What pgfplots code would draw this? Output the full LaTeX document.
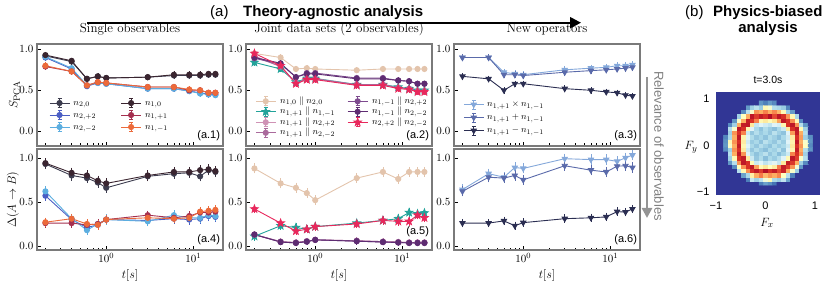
\documentclass[border=0pt]{standalone}
\usepackage{pgfplots}
\pgfplotsset{compat=1.18}
\usepackage{pgfplotstable}
\usepackage{fontspec}
\setsansfont{Liberation Sans}
\usetikzlibrary{arrows.meta}

\definecolor{cA}{HTML}{3C3C4E}
\definecolor{cB}{HTML}{3A2530}
\definecolor{cC}{HTML}{4B5EC4}
\definecolor{cD}{HTML}{5CAEE0}
\definecolor{cE}{HTML}{A5304F}
\definecolor{cF}{HTML}{EC6A3A}
\definecolor{cG}{HTML}{E3C4AC}
\definecolor{cH}{HTML}{22A39A}
\definecolor{cI}{HTML}{CF92B5}
\definecolor{cJ}{HTML}{AA6A9C}
\definecolor{cK}{HTML}{7D4A8E}
\definecolor{cL}{HTML}{5E2C72}
\definecolor{cM}{HTML}{E8285C}
\definecolor{cN}{HTML}{84A8DA}
\definecolor{cO}{HTML}{5A6AAA}
\definecolor{cP}{HTML}{2B2E52}
\definecolor{frm}{HTML}{7A7A7A}
\definecolor{hmbg}{RGB}{49,54,149}

\pgfdeclareplotmark{fstar}{%
 \pgfpathmoveto{\pgfpointpolar{90}{1.3\pgfplotmarksize}}%
 \pgfpathlineto{\pgfpointpolar{126}{0.55\pgfplotmarksize}}%
 \pgfpathlineto{\pgfpointpolar{162}{1.3\pgfplotmarksize}}%
 \pgfpathlineto{\pgfpointpolar{198}{0.55\pgfplotmarksize}}%
 \pgfpathlineto{\pgfpointpolar{234}{1.3\pgfplotmarksize}}%
 \pgfpathlineto{\pgfpointpolar{270}{0.55\pgfplotmarksize}}%
 \pgfpathlineto{\pgfpointpolar{306}{1.3\pgfplotmarksize}}%
 \pgfpathlineto{\pgfpointpolar{342}{0.55\pgfplotmarksize}}%
 \pgfpathlineto{\pgfpointpolar{18}{1.3\pgfplotmarksize}}%
 \pgfpathlineto{\pgfpointpolar{54}{0.55\pgfplotmarksize}}%
 \pgfpathclose
 \pgfusepathqfillstroke
}

\tikzset{
 ser/.style={line width=0.9pt, mark size=2.6pt, mark options={solid}},
 sA/.style={ser, color=cA, mark=*},
 sB/.style={ser, color=cB, mark=*},
 sC/.style={ser, color=cC, mark=*},
 sD/.style={ser, color=cD, mark=*},
 sE/.style={ser, color=cE, mark=*},
 sF/.style={ser, color=cF, mark=*},
 sG/.style={ser, color=cG, mark=*},
 sH/.style={ser, color=cH, mark=fstar, mark size=3pt},
 sI/.style={ser, color=cI, mark=*},
 sJ/.style={ser, color=cJ, mark=*},
 sK/.style={ser, color=cK, mark=*},
 sL/.style={ser, color=cL, mark=*},
 sM/.style={ser, color=cM, mark=fstar, mark size=3pt},
 sN/.style={ser, color=cN, mark=triangle*, mark size=3pt, mark options={solid, rotate=180}},
 sO/.style={ser, color=cO, mark=triangle*, mark size=3pt, mark options={solid, rotate=180}},
 sP/.style={ser, color=cP, mark=triangle*, mark size=3pt, mark options={solid, rotate=180}},
 lab/.style={anchor=south east, font=\sffamily\fontsize{11}{11}\selectfont, inner sep=0pt},
}

\pgfplotsset{eb/.style={error bars/y dir=both, error bars/y fixed=#1, error bars/error bar style={line width=0.6pt}, error bars/error mark options={mark size=2pt, line width=0.6pt}}}

\pgfplotstableread{
t a b c d e f
0.2 0.92 0.93 0.90 0.91 0.79 0.80
0.4 0.85 0.86 0.76 0.77 0.73 0.73
0.6 0.64 0.64 0.55 0.56 0.56 0.56
0.8 0.67 0.67 0.59 0.59 0.60 0.60
1 0.65 0.65 0.58 0.58 0.59 0.59
3 0.66 0.66 0.52 0.52 0.54 0.54
6 0.68 0.69 0.52 0.52 0.54 0.54
9 0.68 0.69 0.49 0.49 0.50 0.51
12 0.68 0.69 0.47 0.46 0.50 0.50
15 0.69 0.70 0.45 0.45 0.47 0.47
18 0.69 0.70 0.45 0.44 0.47 0.47
}\tabA

\pgfplotstableread{
t a b c d e f
0.2 0.93 0.94 0.57 0.62 0.26 0.27
0.4 0.80 0.83 0.30 0.31 0.26 0.31
0.6 0.77 0.80 0.21 0.18 0.24 0.25
0.8 0.72 0.74 0.24 0.25 0.25 0.24
1 0.66 0.71 0.30 0.30 0.30 0.30
3 0.79 0.80 0.29 0.28 0.35 0.32
6 0.82 0.84 0.31 0.35 0.32 0.31
9 0.83 0.84 0.30 0.32 0.34 0.32
12 0.79 0.86 0.31 0.32 0.38 0.39
15 0.86 0.87 0.34 0.35 0.38 0.40
18 0.84 0.85 0.33 0.34 0.39 0.41
}\tabD

\pgfplotstableread{
t g h i j k l m
0.2 0.95 0.84 0.92 0.91 0.89 0.90 0.95
0.4 0.90 0.76 0.79 0.79 0.82 0.83 0.80
0.6 0.76 0.60 0.59 0.59 0.66 0.66 0.58
0.8 0.77 0.645 0.64 0.64 0.71 0.70 0.63
1 0.76 0.645 0.64 0.64 0.71 0.70 0.63
3 0.745 0.57 0.565 0.57 0.65 0.64 0.56
6 0.76 0.57 0.565 0.57 0.65 0.64 0.56
9 0.76 0.54 0.53 0.53 0.62 0.62 0.52
12 0.76 0.52 0.515 0.52 0.61 0.61 0.51
15 0.76 0.50 0.49 0.49 0.58 0.58 0.48
18 0.76 0.50 0.49 0.49 0.58 0.58 0.48
}\tabB

\pgfplotstableread{
t g h i j k l m
0.2 0.88 0.11 0.13 0.13 0.13 0.13 0.42
0.4 0.71 0.23 0.05 0.05 0.045 0.045 0.26
0.6 0.66 0.21 0.04 0.04 0.035 0.035 0.17
0.8 0.60 0.19 0.055 0.055 0.05 0.05 0.19
1 0.52 0.22 0.07 0.07 0.07 0.07 0.22
3 0.77 0.26 0.06 0.06 0.055 0.055 0.25
6 0.84 0.29 0.05 0.05 0.045 0.045 0.29
9 0.76 0.31 0.045 0.045 0.04 0.04 0.28
12 0.84 0.38 0.04 0.04 0.035 0.035 0.28
15 0.84 0.365 0.04 0.04 0.035 0.035 0.35
18 0.84 0.375 0.04 0.04 0.035 0.035 0.32
}\tabE

\pgfplotstableread{
t p q r
0.2 0.90 0.90 0.67
0.4 0.90 0.90 0.64
0.6 0.72 0.69 0.50
0.8 0.70 0.69 0.58
1 0.69 0.68 0.58
3 0.75 0.72 0.52
6 0.77 0.74 0.50
9 0.78 0.75 0.48
12 0.80 0.76 0.47
15 0.80 0.77 0.44
18 0.81 0.78 0.43
}\tabC

\pgfplotstableread{
t p q r
0.2 0.64 0.62 0.26
0.4 0.82 0.78 0.26
0.6 0.78 0.77 0.285
0.8 0.89 0.80 0.23
1 0.88 0.75 0.265
3 0.99 0.91 0.31
6 0.98 0.86 0.32
9 0.98 0.84 0.33
12 0.96 0.905 0.39
15 1.00 0.91 0.385
18 1.03 0.89 0.42
}\tabF

\begin{document}
\begin{tikzpicture}
\useasboundingbox (0pt,0pt) rectangle (830pt,-283pt);

% headers
\node[anchor=base west, font=\sffamily\fontsize{15}{15}\selectfont, inner sep=0pt] at (210pt,-17pt) {(a)};
\node[anchor=base west, font=\sffamily\bfseries\fontsize{15}{15}\selectfont, inner sep=0pt] at (243pt,-17pt) {Theory-agnostic analysis};
\draw[line width=2.2pt, -{Triangle[length=11pt, width=11pt]}] (87pt,-22.7pt) -- (581pt,-22.7pt);
\node[anchor=base west, font=\sffamily\fontsize{15}{15}\selectfont, inner sep=0pt] at (685pt,-17pt) {(b)};
\node[anchor=base west, font=\sffamily\bfseries\fontsize{15}{15}\selectfont, inner sep=0pt] at (713pt,-17pt) {Physics-biased};
\node[anchor=base, font=\sffamily\bfseries\fontsize{15}{15}\selectfont, inner sep=0pt] at (768pt,-33pt) {analysis};

% column titles
\node[anchor=base, font=\fontsize{13}{13}\selectfont, inner sep=0pt] at (130pt,-33pt) {Single observables};
\node[anchor=base, font=\fontsize{13}{13}\selectfont, inner sep=0pt] at (339pt,-33pt) {Joint data sets (2 observables)};
\node[anchor=base, font=\fontsize{13}{13}\selectfont, inner sep=0pt] at (547pt,-33pt) {New operators};

% relevance arrow
\draw[line width=2.5pt, draw=black!42, -{Triangle[length=10pt, width=10pt]}] (647pt,-77pt) -- (647pt,-218pt);
\node[rotate=-90, font=\sffamily\fontsize{13}{13}\selectfont, text=black!50] at (659pt,-146pt) {Relevance of observables};

% (a.1)
\begin{axis}[at={(37pt,-44pt)}, anchor=north west,
 scale only axis, width=186pt, height=102pt, xmode=log, xmin=0.16, xmax=22, ymin=-0.18, ymax=1.065,
 tick align=inside, tick pos=left, ytick={0,0.5,1}, yticklabels={$0.0$,$0.5$,$1.0$}, xticklabels={,,},
 axis line style={draw=frm, line width=1.2pt}, major tick style={black, line width=0.6pt}, minor tick style={black, line width=0.5pt},
 major tick length=4pt, minor tick length=2.5pt, tick label style={font=\fontsize{11}{11}\selectfont},
 ylabel={$S_{\rm PCA}$}, ylabel style={at={(axis description cs:-0.12,0.5)}, anchor=center, font=\fontsize{13}{13}\selectfont},
 legend cell align=left, legend columns=2,
 legend image code/.code={\draw[#1, mark=none, line width=0.6pt] (10pt,-4.5pt) -- (10pt,4.5pt) (8pt,4.5pt) -- (12pt,4.5pt) (8pt,-4.5pt) -- (12pt,-4.5pt); \draw[mark repeat=2, mark phase=2, #1] plot coordinates {(0pt,0pt) (10pt,0pt) (20pt,0pt)};},
 legend style={draw=none, fill=none, inner sep=0pt, outer sep=0pt, font=\fontsize{9.5}{9.5}\selectfont, at={(0.065,0.48)}, anchor=north west, nodes={text height=6.5pt, text depth=2.5pt, inner ysep=1.5pt, inner xsep=3.5pt}, /tikz/every even column/.append style={column sep=21pt}}]
\addlegendimage{sA}\addlegendentry{$n_{2,0}$}
\addlegendimage{sB}\addlegendentry{$n_{1,0}$}
\addlegendimage{sC}\addlegendentry{$n_{2,+2}$}
\addlegendimage{sE}\addlegendentry{$n_{1,+1}$}
\addlegendimage{sD}\addlegendentry{$n_{2,-2}$}
\addlegendimage{sF}\addlegendentry{$n_{1,-1}$}
\addplot[sA, eb=0.015, forget plot] table[x=t, y=a]{\tabA};
\addplot[sC, eb=0.015, forget plot] table[x=t, y=c]{\tabA};
\addplot[sD, eb=0.015, forget plot] table[x=t, y=d]{\tabA};
\addplot[sB, eb=0.015, forget plot] table[x=t, y=b]{\tabA};
\addplot[sE, eb=0.015, forget plot] table[x=t, y=e]{\tabA};
\addplot[sF, eb=0.015, forget plot] table[x=t, y=f]{\tabA};
\node[lab] at (rel axis cs:0.985,0.045) {(a.1)};
\end{axis}

% (a.2)
\begin{axis}[at={(246pt,-44pt)}, anchor=north west,
 scale only axis, width=186pt, height=102pt, xmode=log, xmin=0.16, xmax=22, ymin=-0.18, ymax=1.065,
 tick align=inside, tick pos=left, ytick={0,0.5,1}, yticklabels={$0.0$,$0.5$,$1.0$}, xticklabels={,,},
 axis line style={draw=frm, line width=1.2pt}, major tick style={black, line width=0.6pt}, minor tick style={black, line width=0.5pt},
 major tick length=4pt, minor tick length=2.5pt, tick label style={font=\fontsize{11}{11}\selectfont},
 legend cell align=left, legend columns=2,
 legend image code/.code={\draw[#1, mark=none, line width=0.6pt] (10pt,-4.5pt) -- (10pt,4.5pt) (8pt,4.5pt) -- (12pt,4.5pt) (8pt,-4.5pt) -- (12pt,-4.5pt); \draw[mark repeat=2, mark phase=2, #1] plot coordinates {(0pt,0pt) (10pt,0pt) (20pt,0pt)};},
 legend style={draw=none, fill=none, inner sep=0pt, outer sep=0pt, font=\fontsize{9.5}{9.5}\selectfont, at={(0.05,0.49)}, anchor=north west, nodes={text height=6.5pt, text depth=2.5pt, inner ysep=0.75pt, inner xsep=4pt}, /tikz/every even column/.append style={column sep=8pt}}]
\addlegendimage{sG}\addlegendentry{$n_{1,0}\parallel n_{2,0}$}
\addlegendimage{sK}\addlegendentry{$n_{1,-1}\parallel n_{2,+2}$}
\addlegendimage{sH}\addlegendentry{$n_{1,+1}\parallel n_{1,-1}$}
\addlegendimage{sL}\addlegendentry{$n_{1,-1}\parallel n_{2,-2}$}
\addlegendimage{sI}\addlegendentry{$n_{1,+1}\parallel n_{2,+2}$}
\addlegendimage{sM}\addlegendentry{$n_{2,+2}\parallel n_{2,-2}$}
\addlegendimage{sJ}\addlegendentry{$n_{1,+1}\parallel n_{2,-2}$}
\addplot[sG, eb=0.015, forget plot] table[x=t, y=g]{\tabB};
\addplot[sH, eb=0.015, forget plot] table[x=t, y=h]{\tabB};
\addplot[sI, eb=0.015, forget plot] table[x=t, y=i]{\tabB};
\addplot[sJ, eb=0.015, forget plot] table[x=t, y=j]{\tabB};
\addplot[sK, eb=0.015, forget plot] table[x=t, y=k]{\tabB};
\addplot[sL, eb=0.015, forget plot] table[x=t, y=l]{\tabB};
\addplot[sM, eb=0.015, forget plot] table[x=t, y=m]{\tabB};
\node[lab] at (rel axis cs:0.985,0.045) {(a.2)};
\end{axis}

% (a.3)
\begin{axis}[at={(454pt,-44pt)}, anchor=north west,
 scale only axis, width=186pt, height=102pt, xmode=log, xmin=0.16, xmax=22, ymin=-0.18, ymax=1.065,
 tick align=inside, tick pos=left, ytick={0,0.5,1}, yticklabels={$0.0$,$0.5$,$1.0$}, xticklabels={,,},
 axis line style={draw=frm, line width=1.2pt}, major tick style={black, line width=0.6pt}, minor tick style={black, line width=0.5pt},
 major tick length=4pt, minor tick length=2.5pt, tick label style={font=\fontsize{11}{11}\selectfont},
 legend cell align=left,
 legend image code/.code={\draw[#1, mark=none, line width=0.6pt] (10pt,-4.5pt) -- (10pt,4.5pt) (8pt,4.5pt) -- (12pt,4.5pt) (8pt,-4.5pt) -- (12pt,-4.5pt); \draw[mark repeat=2, mark phase=2, #1] plot coordinates {(0pt,0pt) (10pt,0pt) (20pt,0pt)};},
 legend style={draw=none, fill=none, inner sep=0pt, outer sep=0pt, font=\fontsize{9.5}{9.5}\selectfont, at={(0.05,0.47)}, anchor=north west, nodes={text height=7.5pt, text depth=3pt, inner ysep=1.25pt, inner xsep=3pt}}]
\addlegendimage{sN}\addlegendentry{$n_{1,+1}\times n_{1,-1}$}
\addlegendimage{sO}\addlegendentry{$n_{1,+1}+n_{1,-1}$}
\addlegendimage{sP}\addlegendentry{$n_{1,+1}-n_{1,-1}$}
\addplot[sN, eb=0.018, forget plot] table[x=t, y=p]{\tabC};
\addplot[sO, eb=0.018, forget plot] table[x=t, y=q]{\tabC};
\addplot[sP, eb=0.015, forget plot] table[x=t, y=r]{\tabC};
\node[lab] at (rel axis cs:0.985,0.045) {(a.3)};
\end{axis}

% (a.4)
\begin{axis}[at={(37pt,-149pt)}, anchor=north west,
 scale only axis, width=186pt, height=101pt, xmode=log, xmin=0.16, xmax=22, ymin=-0.045, ymax=1.10,
 tick align=inside, tick pos=left, ytick={0,0.5,1}, yticklabels={$0.0$,$0.5$,$1.0$},
 axis line style={draw=frm, line width=1.2pt}, major tick style={black, line width=0.6pt}, minor tick style={black, line width=0.5pt},
 major tick length=4pt, minor tick length=2.5pt, tick label style={font=\fontsize{11}{11}\selectfont},
 xlabel={$t[s]$}, xlabel style={font=\fontsize{13}{13}\selectfont},
 ylabel={$\Delta(A\rightarrow B)$}, ylabel style={at={(axis description cs:-0.13,0.5)}, anchor=center, font=\fontsize{12}{12}\selectfont}]
\addplot[sA, eb=0.035] table[x=t, y=a]{\tabD};
\addplot[sC, eb=0.035] table[x=t, y=c]{\tabD};
\addplot[sD, eb=0.035] table[x=t, y=d]{\tabD};
\addplot[sB, eb=0.035] table[x=t, y=b]{\tabD};
\addplot[sE, eb=0.03] table[x=t, y=e]{\tabD};
\addplot[sF, eb=0.03] table[x=t, y=f]{\tabD};
\node[lab] at (rel axis cs:0.985,0.045) {(a.4)};
\end{axis}

% (a.5)
\begin{axis}[at={(246pt,-149pt)}, anchor=north west,
 scale only axis, width=186pt, height=101pt, xmode=log, xmin=0.16, xmax=22, ymin=-0.045, ymax=1.10,
 tick align=inside, tick pos=left, ytick={0,0.5,1}, yticklabels={$0.0$,$0.5$,$1.0$},
 axis line style={draw=frm, line width=1.2pt}, major tick style={black, line width=0.6pt}, minor tick style={black, line width=0.5pt},
 major tick length=4pt, minor tick length=2.5pt, tick label style={font=\fontsize{11}{11}\selectfont},
 xlabel={$t[s]$}, xlabel style={font=\fontsize{13}{13}\selectfont}]
\addplot[sG, eb=0.035] table[x=t, y=g]{\tabE};
\addplot[sH, eb=0.025] table[x=t, y=h]{\tabE};
\addplot[sI, eb=0.015] table[x=t, y=i]{\tabE};
\addplot[sJ, eb=0.015] table[x=t, y=j]{\tabE};
\addplot[sK, eb=0.015] table[x=t, y=k]{\tabE};
\addplot[sL, eb=0.015] table[x=t, y=l]{\tabE};
\addplot[sM, eb=0.025] table[x=t, y=m]{\tabE};
\node[lab] at (rel axis cs:0.985,0.125) {(a.5)};
\end{axis}

% (a.6)
\begin{axis}[at={(454pt,-149pt)}, anchor=north west,
 scale only axis, width=186pt, height=101pt, xmode=log, xmin=0.16, xmax=22, ymin=-0.045, ymax=1.10,
 tick align=inside, tick pos=left, ytick={0,0.5,1}, yticklabels={$0.0$,$0.5$,$1.0$},
 axis line style={draw=frm, line width=1.2pt}, major tick style={black, line width=0.6pt}, minor tick style={black, line width=0.5pt},
 major tick length=4pt, minor tick length=2.5pt, tick label style={font=\fontsize{11}{11}\selectfont},
 xlabel={$t[s]$}, xlabel style={font=\fontsize{13}{13}\selectfont}]
\addplot[sN, eb=0.035] table[x=t, y=p]{\tabF};
\addplot[sO, eb=0.035] table[x=t, y=q]{\tabF};
\addplot[sP, eb=0.025] table[x=t, y=r]{\tabF};
\node[lab] at (rel axis cs:0.985,0.045) {(a.6)};
\end{axis}

% (b) heatmap
\node[font=\sffamily\fontsize{10.5}{10.5}\selectfont] at (768pt,-80pt) {t=3.0s};
\begin{axis}[at={(716pt,-195pt)}, anchor=south west, scale only axis, width=104pt, height=103pt,
 xmin=-1.0, xmax=1.1, ymin=-1.06, ymax=1.14, enlargelimits=false,
 axis line style={draw=none}, tick style={draw=none}, tick align=outside, major tick length=3pt,
 xtick={-1,0,1}, ytick={-1,0,1}, xticklabels={−1,0,1}, yticklabels={−1,0,1},
 tick label style={font=\sffamily\fontsize{11}{11}\selectfont},
 axis background/.style={fill=hmbg},
 colormap={rdylbu}{rgb255=(49,54,149) rgb255=(69,117,180) rgb255=(116,173,209) rgb255=(171,217,233) rgb255=(224,243,248) rgb255=(255,255,191) rgb255=(254,224,144) rgb255=(253,174,97) rgb255=(244,109,67) rgb255=(215,48,39) rgb255=(165,0,38)},
 point meta min=0, point meta max=1]
\addplot[matrix plot*, mesh/cols=20, point meta=explicit] coordinates {
(-.805,-.805)[0] (-.715,-.805)[0] (-.625,-.805)[0] (-.535,-.805)[0] (-.445,-.805)[0] (-.355,-.805)[0] (-.265,-.805)[0] (-.175,-.805)[0] (-.085,-.805)[.12] (.005,-.805)[.18]
(.095,-.805)[.15] (.185,-.805)[.10] (.275,-.805)[0] (.365,-.805)[0] (.455,-.805)[0] (.545,-.805)[0] (.635,-.805)[0] (.725,-.805)[0] (.815,-.805)[0] (.905,-.805)[0]
(-.805,-.715)[0] (-.715,-.715)[0] (-.625,-.715)[0] (-.535,-.715)[0] (-.445,-.715)[0] (-.355,-.715)[.12] (-.265,-.715)[.35] (-.175,-.715)[.28] (-.085,-.715)[.33] (.005,-.715)[.45]
(.095,-.715)[.52] (.185,-.715)[.3] (.275,-.715)[.27] (.365,-.715)[.34] (.455,-.715)[.18] (.545,-.715)[0] (.635,-.715)[0] (.725,-.715)[0] (.815,-.715)[0] (.905,-.715)[0]
(-.805,-.625)[0] (-.715,-.625)[0] (-.625,-.625)[0] (-.535,-.625)[0] (-.445,-.625)[.18] (-.355,-.625)[.3] (-.265,-.625)[.55] (-.175,-.625)[.7] (-.085,-.625)[.78] (.005,-.625)[.68]
(.095,-.625)[.74] (.185,-.625)[.7] (.275,-.625)[.76] (.365,-.625)[.5] (.455,-.625)[.33] (.545,-.625)[.12] (.635,-.625)[0] (.725,-.625)[0] (.815,-.625)[0] (.905,-.625)[0]
(-.805,-.535)[0] (-.715,-.535)[0] (-.625,-.535)[0] (-.535,-.535)[.32] (-.445,-.535)[.52] (-.355,-.535)[.75] (-.265,-.535)[.9] (-.175,-.535)[.95] (-.085,-.535)[.88] (.005,-.535)[.97]
(.095,-.535)[.9] (.185,-.535)[.94] (.275,-.535)[.86] (.365,-.535)[.93] (.455,-.535)[.7] (.545,-.535)[.48] (.635,-.535)[.28] (.725,-.535)[0] (.815,-.535)[0] (.905,-.535)[0]
(-.805,-.445)[0] (-.715,-.445)[0] (-.625,-.445)[.14] (-.535,-.445)[.5] (-.445,-.445)[.75] (-.355,-.445)[.9] (-.265,-.445)[.95] (-.175,-.445)[.72] (-.085,-.445)[.52] (.005,-.445)[.58]
(.095,-.445)[.5] (.185,-.445)[.56] (.275,-.445)[.78] (.365,-.445)[.94] (.455,-.445)[.88] (.545,-.445)[.74] (.635,-.445)[.46] (.725,-.445)[.16] (.815,-.445)[0] (.905,-.445)[0]
(-.805,-.355)[0] (-.715,-.355)[.16] (-.625,-.355)[.32] (-.535,-.355)[.74] (-.445,-.355)[.95] (-.355,-.355)[.9] (-.265,-.355)[.52] (-.175,-.355)[.36] (-.085,-.355)[.4] (.005,-.355)[.34]
(.095,-.355)[.38] (.185,-.355)[.41] (.275,-.355)[.35] (.365,-.355)[.57] (.455,-.355)[.94] (.545,-.355)[.89] (.635,-.355)[.7] (.725,-.355)[.28] (.815,-.355)[.14] (.905,-.355)[0]
(-.805,-.265)[0] (-.715,-.265)[.28] (-.625,-.265)[.52] (-.535,-.265)[.9] (-.445,-.265)[.94] (-.355,-.265)[.56] (-.265,-.265)[.36] (-.175,-.265)[.26] (-.085,-.265)[.31] (.005,-.265)[.24]
(.095,-.265)[.3] (.185,-.265)[.27] (.275,-.265)[.32] (.365,-.265)[.4] (.455,-.265)[.52] (.545,-.265)[.95] (.635,-.265)[.88] (.725,-.265)[.48] (.815,-.265)[.32] (.905,-.265)[0]
(-.805,-.175)[0] (-.715,-.175)[.32] (-.625,-.175)[.7] (-.535,-.175)[.95] (-.445,-.175)[.74] (-.355,-.175)[.4] (-.265,-.175)[.3] (-.175,-.175)[.25] (-.085,-.175)[.29] (.005,-.175)[.33]
(.095,-.175)[.26] (.185,-.175)[.3] (.275,-.175)[.24] (.365,-.175)[.29] (.455,-.175)[.36] (.545,-.175)[.77] (.635,-.175)[.9] (.725,-.175)[.74] (.815,-.175)[.28] (.905,-.175)[0]
(-.805,-.085)[.14] (-.715,-.085)[.28] (-.625,-.085)[.74] (-.535,-.085)[.9] (-.445,-.085)[.57] (-.355,-.085)[.36] (-.265,-.085)[.26] (-.175,-.085)[.31] (-.085,-.085)[.27] (.005,-.085)[.24]
(.095,-.085)[.3] (.185,-.085)[.28] (.275,-.085)[.33] (.365,-.085)[.25] (.455,-.085)[.4] (.545,-.085)[.53] (.635,-.085)[.94] (.725,-.085)[.7] (.815,-.085)[.32] (.905,-.085)[.16]
(-.805,.005)[.16] (-.715,.005)[.48] (-.625,.005)[.7] (-.535,.005)[.94] (-.445,.005)[.53] (-.355,.005)[.4] (-.265,.005)[.3] (-.175,.005)[.26] (-.085,.005)[.32] (.005,.005)[.28]
(.095,.005)[.25] (.185,.005)[.31] (.275,.005)[.27] (.365,.005)[.3] (.455,.005)[.36] (.545,.005)[.57] (.635,.005)[.9] (.725,.005)[.74] (.815,.005)[.5] (.905,.005)[.14]
(-.805,.095)[.15] (-.715,.095)[.52] (-.625,.095)[.74] (-.535,.095)[.9] (-.445,.095)[.56] (-.355,.095)[.37] (-.265,.095)[.27] (-.175,.095)[.3] (-.085,.095)[.25] (.005,.095)[.33]
(.095,.095)[.29] (.185,.095)[.26] (.275,.095)[.32] (.365,.095)[.27] (.455,.095)[.4] (.545,.095)[.54] (.635,.095)[.95] (.725,.095)[.7] (.815,.095)[.48] (.905,.095)[.16]
(-.805,.185)[.13] (-.715,.185)[.3] (-.625,.185)[.7] (-.535,.185)[.95] (-.445,.185)[.54] (-.355,.185)[.4] (-.265,.185)[.31] (-.175,.185)[.26] (-.085,.185)[.29] (.005,.185)[.25]
(.095,.185)[.31] (.185,.185)[.28] (.275,.185)[.24] (.365,.185)[.3] (.455,.185)[.37] (.545,.185)[.56] (.635,.185)[.9] (.725,.185)[.73] (.815,.185)[.28] (.905,.185)[.15]
(-.805,.275)[0] (-.715,.275)[.28] (-.625,.275)[.74] (-.535,.275)[.9] (-.445,.275)[.77] (-.355,.275)[.36] (-.265,.275)[.26] (-.175,.275)[.32] (-.085,.275)[.27] (.005,.275)[.3]
(.095,.275)[.26] (.185,.275)[.33] (.275,.275)[.28] (.365,.275)[.25] (.455,.275)[.4] (.545,.275)[.73] (.635,.275)[.94] (.725,.275)[.7] (.815,.275)[.32] (.905,.275)[0]
(-.805,.365)[0] (-.715,.365)[.32] (-.625,.365)[.48] (-.535,.365)[.95] (-.445,.365)[.9] (-.355,.365)[.53] (-.265,.365)[.4] (-.175,.365)[.3] (-.085,.365)[.25] (.005,.365)[.31]
(.095,.365)[.27] (.185,.365)[.24] (.275,.365)[.3] (.365,.365)[.36] (.455,.365)[.57] (.545,.365)[.9] (.635,.365)[.95] (.725,.365)[.52] (.815,.365)[.28] (.905,.365)[0]
(-.805,.455)[0] (-.715,.455)[.14] (-.625,.455)[.28] (-.535,.455)[.7] (-.445,.455)[.94] (-.355,.455)[.95] (-.265,.455)[.57] (-.175,.455)[.35] (-.085,.455)[.4] (.005,.455)[.37]
(.095,.455)[.34] (.185,.455)[.4] (.275,.455)[.38] (.365,.455)[.53] (.455,.455)[.9] (.545,.455)[.95] (.635,.455)[.74] (.725,.455)[.32] (.815,.455)[.16] (.905,.455)[0]
(-.805,.545)[0] (-.715,.545)[0] (-.625,.545)[.16] (-.535,.545)[.48] (-.445,.545)[.7] (-.355,.545)[.94] (-.265,.545)[.9] (-.175,.545)[.77] (-.085,.545)[.53] (.005,.545)[.57]
(.095,.545)[.52] (.185,.545)[.58] (.275,.545)[.72] (.365,.545)[.95] (.455,.545)[.9] (.545,.545)[.75] (.635,.545)[.52] (.725,.545)[.14] (.815,.545)[0] (.905,.545)[0]
(-.805,.635)[0] (-.715,.635)[0] (-.625,.635)[0] (-.535,.635)[.28] (-.445,.635)[.5] (-.355,.635)[.7] (-.265,.635)[.95] (-.175,.635)[.88] (-.085,.635)[.94] (.005,.635)[.9]
(.095,.635)[.97] (.185,.635)[.86] (.275,.635)[.95] (.365,.635)[.9] (.455,.635)[.74] (.545,.635)[.52] (.635,.635)[.3] (.725,.635)[0] (.815,.635)[0] (.905,.635)[0]
(-.805,.725)[0] (-.715,.725)[0] (-.625,.725)[0] (-.535,.725)[0] (-.445,.725)[.14] (-.355,.725)[.33] (-.265,.725)[.48] (-.175,.725)[.74] (-.085,.725)[.7] (.005,.725)[.77]
(.095,.725)[.7] (.185,.725)[.76] (.275,.725)[.68] (.365,.725)[.52] (.455,.725)[.28] (.545,.725)[.17] (.635,.725)[0] (.725,.725)[0] (.815,.725)[0] (.905,.725)[0]
(-.805,.815)[0] (-.715,.815)[0] (-.625,.815)[0] (-.535,.815)[0] (-.445,.815)[0] (-.355,.815)[.17] (-.265,.815)[.28] (-.175,.815)[.33] (-.085,.815)[.27] (.005,.815)[.52]
(.095,.815)[.47] (.185,.815)[.32] (.275,.815)[.3] (.365,.815)[.27] (.455,.815)[.13] (.545,.815)[0] (.635,.815)[0] (.725,.815)[0] (.815,.815)[0] (.905,.815)[0]
(-.805,.905)[0] (-.715,.905)[0] (-.625,.905)[0] (-.535,.905)[0] (-.445,.905)[0] (-.355,.905)[0] (-.265,.905)[0] (-.175,.905)[0] (-.085,.905)[.16] (.005,.905)[.12]
(.095,.905)[.17] (.185,.905)[.14] (.275,.905)[0] (.365,.905)[0] (.455,.905)[0] (.545,.905)[0] (.635,.905)[0] (.725,.905)[0] (.815,.905)[0] (.905,.905)[0]
};
\end{axis}
\node[font=\fontsize{13}{13}\selectfont] at (767pt,-223pt) {$F_x$};
\node[font=\fontsize{13}{13}\selectfont] at (691pt,-147pt) {$F_y$};
\end{tikzpicture}
\end{document}
